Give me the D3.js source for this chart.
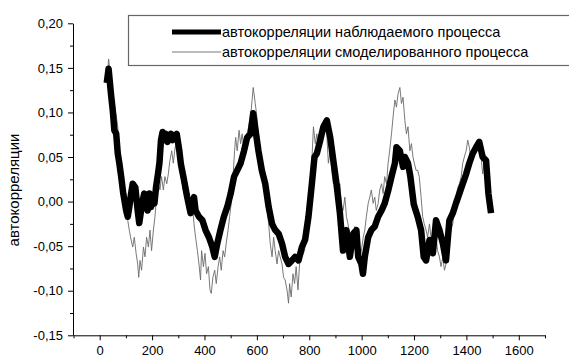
<!DOCTYPE html>
<html>
<head>
<meta charset="utf-8">
<script src="https://cdn.jsdelivr.net/npm/d3@7"></script>
<style>
  body { margin: 0; background: #fff; }
  svg { display: block; font-family: "Liberation Sans", Arial, sans-serif; }
</style>
</head>
<body>
<div id="chart"></div>
<script>
// observed process autocorrelations (lag, value)
const lagObs = [27,34,43,50,56,63,69,75,82,90,101,107,113,120,126,136,145,151,158,164,170,177,183,190,196,202,209,215,221,228,234,240,247,253,259,266,272,278,285,294,304,310,322,334,347,360,366,379,392,404,417,430,439,449,461,474,487,500,513,525,538,551,563,576,586,595,606,619,632,645,658,670,683,696,708,721,734,746,759,772,784,797,810,820,829,842,854,867,880,892,904,917,929,942,955,968,980,987,999,1005,1012,1025,1037,1050,1063,1076,1088,1101,1114,1127,1133,1146,1158,1165,1177,1186,1199,1214,1227,1237,1246,1259,1272,1284,1297,1310,1322,1335,1348,1360,1373,1386,1399,1411,1424,1437,1449,1462,1475,1484,1494]
const acfObs = [0.133,0.149,0.121,0.102,0.080,0.076,0.054,0.043,0.028,0.009,-0.010,-0.017,-0.006,0.009,0.020,0.016,-0.010,-0.024,-0.010,0.001,0.009,0.001,-0.010,0.009,-0.006,0.005,-0.002,0.016,0.028,0.043,0.069,0.078,0.069,0.076,0.067,0.071,0.076,0.069,0.072,0.076,0.057,0.042,0.024,0.005,-0.013,0.005,-0.010,-0.017,-0.021,-0.032,-0.040,-0.051,-0.062,-0.047,-0.032,-0.017,-0.006,0.009,0.028,0.035,0.043,0.057,0.072,0.076,0.099,0.080,0.057,0.035,0.020,-0.006,-0.025,-0.032,-0.036,-0.047,-0.062,-0.070,-0.066,-0.062,-0.066,-0.051,-0.043,-0.017,0.020,0.050,0.054,0.069,0.084,0.091,0.072,0.046,0.020,-0.013,-0.055,-0.032,-0.062,-0.036,-0.032,-0.062,-0.070,-0.081,-0.062,-0.040,-0.032,-0.028,-0.017,-0.010,-0.002,0.012,0.028,0.043,0.061,0.057,0.039,0.050,0.043,0.028,-0.003,-0.017,-0.032,-0.062,-0.066,-0.043,-0.058,-0.021,-0.032,-0.047,-0.066,-0.021,-0.013,-0.002,0.009,0.020,0.031,0.043,0.054,0.061,0.067,0.050,0.046,0.009,-0.013]

// simulated process autocorrelations (lag, value)
const lagSim = [31,34,47,52,63,69,75,82,90,101,107,113,120,126,132,139,145,149,154,160,167,173,179,186,192,198,205,211,217,224,230,236,243,249,256,262,268,275,281,288,294,309,319,328,334,345,354,360,366,373,379,385,389,396,402,408,415,421,426,432,439,445,452,458,464,471,477,483,490,496,502,509,515,519,525,532,538,544,551,563,576,586,594,600,606,613,619,625,632,638,645,651,658,664,670,677,683,689,696,702,708,715,721,725,731,738,744,750,757,763,772,782,791,797,804,810,816,823,829,835,842,848,854,861,867,873,880,886,892,904,910,917,923,929,936,942,948,955,961,968,974,980,987,993,999,1006,1012,1018,1025,1031,1037,1044,1050,1056,1063,1069,1076,1082,1088,1095,1101,1107,1114,1120,1127,1133,1139,1146,1152,1158,1165,1171,1177,1184,1190,1196,1201,1208,1214,1220,1227,1233,1239,1246,1252,1259,1265,1272,1278,1284,1290,1297,1303,1310,1316,1322,1329,1335,1341,1348,1354,1360,1367,1373,1380,1386,1392,1399,1405,1411,1418,1424,1430,1437,1443,1449,1456,1462,1468,1475,1481,1487,1494]
const acfSim = [0.147,0.160,0.125,0.110,0.097,0.084,0.057,0.035,0.013,-0.006,-0.021,-0.032,-0.043,-0.051,-0.040,-0.058,-0.070,-0.085,-0.066,-0.077,-0.051,-0.062,-0.040,-0.051,-0.032,-0.055,-0.032,-0.017,0.005,0.020,0.013,0.028,0.013,0.028,0.020,0.031,0.046,0.057,0.043,0.061,0.065,0.035,0.013,0.020,0.001,-0.010,-0.002,-0.025,-0.040,-0.055,-0.070,-0.088,-0.055,-0.073,-0.058,-0.081,-0.073,-0.099,-0.103,-0.085,-0.077,-0.092,-0.073,-0.062,-0.077,-0.055,-0.062,-0.047,-0.032,-0.017,-0.002,0.028,0.057,0.072,0.057,0.080,0.065,0.076,0.057,0.076,0.095,0.128,0.110,0.095,0.072,0.057,0.043,0.028,0.013,-0.006,-0.025,-0.047,-0.062,-0.040,-0.055,-0.070,-0.055,-0.062,-0.070,-0.085,-0.088,-0.099,-0.114,-0.092,-0.107,-0.081,-0.092,-0.073,-0.099,-0.070,-0.062,-0.055,-0.032,-0.002,0.020,0.046,0.084,0.065,0.076,0.057,0.072,0.087,0.080,0.091,0.076,0.043,0.057,0.035,0.020,0.028,0.009,0.020,-0.006,-0.010,0.005,-0.017,-0.025,-0.040,-0.055,-0.040,-0.028,-0.040,-0.047,-0.062,-0.055,-0.040,-0.032,-0.017,-0.002,0.005,0.013,-0.002,0.005,-0.010,-0.002,0.013,0.020,0.009,0.028,0.020,0.043,0.057,0.076,0.095,0.114,0.106,0.121,0.128,0.110,0.117,0.091,0.076,0.084,0.057,0.065,0.050,0.043,0.035,0.035,0.028,0.005,-0.017,-0.025,-0.032,-0.040,-0.025,-0.040,-0.047,-0.032,-0.040,-0.055,-0.062,-0.073,-0.062,-0.077,-0.070,-0.047,-0.040,-0.032,-0.025,-0.010,0.005,0.016,0.020,0.028,0.043,0.050,0.057,0.069,0.061,0.046,0.057,0.057,0.065,0.069,0.057,0.050,0.031,0.043,0.028,0.005,-0.010,-0.013]

const xTicks = [0,200,400,600,800,1000,1200,1400,1600]
const yTicks = [-0.15,-0.10,-0.05,0.00,0.05,0.10,0.15,0.20]
const legendNames = ['автокорреляции наблюдаемого процесса', 'автокорреляции смоделированного процесса']
const yTitle = 'автокорреляции'

const width = 569,
  height = 361

const svg = d3.select('#chart')
  .append('svg')
  .attr('width', width)
  .attr('height', height)

const x = d3.scaleLinear().domain([-100, 1700]).range([73.5, 545])
const y = d3.scaleLinear().domain([-0.15, 0.20]).range([335.3, 23.3])

const obs = lagObs.map((l, i) => [l, acfObs[i]])
const sim = lagSim.map((l, i) => [l, acfSim[i]])

const line = d3.line().x(d => x(d[0])).y(d => y(d[1]))

// thin line first, thick one covers it
svg.append('path')
  .datum(sim)
  .attr('fill', 'none')
  .attr('stroke', '#6a6a6a')
  .attr('stroke-width', 0.9)
  .attr('d', line)

svg.append('path')
  .datum(obs)
  .attr('fill', 'none')
  .attr('stroke', '#000')
  .attr('stroke-width', 6.5)
  .attr('stroke-linejoin', 'round')
  .attr('d', line)

const fmt = d => d3.format('.2f')(d).replace('.', ',').replace('−', '-')

// minor ticks
const yMinor = d3.range(-0.125, 0.2, 0.05)
const xMinor = d3.range(-100, 1701, 200)
svg.append('g')
  .attr('transform', 'translate(73,0)')
  .call(d3.axisLeft(y).tickValues(yMinor).tickFormat('').tickSize(3).tickSizeOuter(0))
  .call(g => g.select('.domain').remove())
svg.append('g')
  .attr('transform', 'translate(0,335.3)')
  .call(d3.axisBottom(x).tickValues(xMinor).tickFormat('').tickSize(3).tickSizeOuter(0))
  .call(g => g.select('.domain').remove())

// major axes
svg.append('g')
  .attr('transform', 'translate(73,0)')
  .call(d3.axisLeft(y).tickValues(yTicks).tickFormat(fmt).tickSize(5).tickSizeOuter(0).tickPadding(5))
svg.append('g')
  .attr('transform', 'translate(0,335.3)')
  .call(d3.axisBottom(x).tickValues(xTicks).tickFormat(d3.format('d')).tickSize(5).tickSizeOuter(0).tickPadding(5))

svg.selectAll('.tick text')
  .attr('font-size', 13)
  .attr('font-family', '"Liberation Sans", Arial, sans-serif')
  .attr('fill', '#000')
svg.selectAll('.domain, .tick line').attr('stroke', '#000')

// axis title
svg.append('text')
  .attr('transform', 'translate(19,190) rotate(-90)')
  .attr('text-anchor', 'middle')
  .attr('font-size', 15)
  .text(yTitle)

// legend
const lg = svg.append('g')
lg.append('rect')
  .attr('x', 128.5).attr('y', 15.5)
  .attr('width', 460).attr('height', 50)
  .attr('fill', '#fff')
  .attr('stroke', '#666')
  .attr('stroke-width', 1.2)

lg.append('line')
  .attr('x1', 172).attr('x2', 221).attr('y1', 32).attr('y2', 32)
  .attr('stroke', '#000').attr('stroke-width', 5)
lg.append('line')
  .attr('x1', 172).attr('x2', 221).attr('y1', 52).attr('y2', 52)
  .attr('stroke', '#6a6a6a').attr('stroke-width', 0.9)

lg.selectAll('text.name')
  .data(legendNames)
  .enter()
  .append('text')
  .attr('class', 'name')
  .attr('x', 222)
  .attr('y', (d, i) => 37 + i * 20)
  .attr('font-size', 14.5)
  .text(d => d)
</script>
</body>
</html>
